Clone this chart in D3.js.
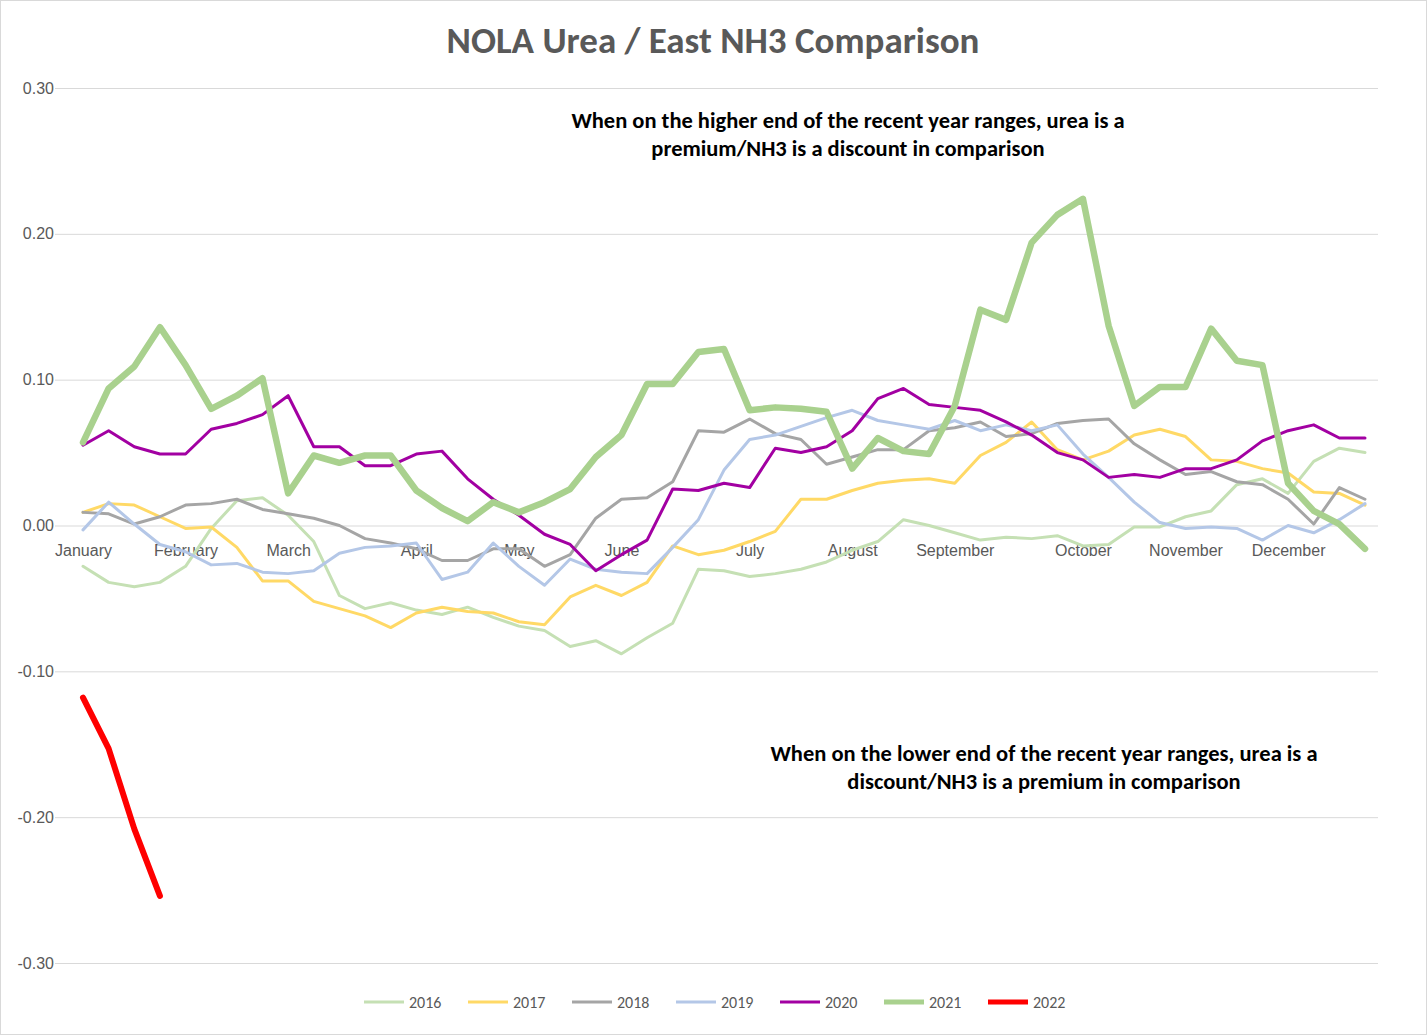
<!DOCTYPE html>
<html>
<head>
<meta charset="utf-8">
<script src="https://cdn.jsdelivr.net/npm/d3@7"></script>
<style>
body { margin: 0; background: #fff; }
svg { font-family: Calibri, Carlito, "Liberation Sans", Arial, sans-serif; }
</style>
</head>
<body>
<svg id="chart" width="1427" height="1035"></svg>
<script>
const months = ["January","February","March","April","May","June","July","August","September","October","November","December"];
const monthIdx = [0,4,8,13,17,21,26,30,34,39,43,47];
const yTicks = [0.30, 0.20, 0.10, 0.00, -0.10, -0.20, -0.30];

const s2016 = [-0.028,-0.039,-0.042,-0.039,-0.028,-0.002,0.017,0.019,0.007,-0.011,-0.048,-0.057,-0.053,-0.058,-0.061,-0.056,-0.063,-0.069,-0.072,-0.083,-0.079,-0.088,-0.077,-0.067,-0.030,-0.031,-0.035,-0.033,-0.030,-0.025,-0.017,-0.011,0.004,0.000,-0.005,-0.010,-0.008,-0.009,-0.007,-0.014,-0.013,-0.001,-0.001,0.006,0.010,0.028,0.032,0.022,0.044,0.053,0.050];
const s2017 = [0.009,0.015,0.014,0.006,-0.002,-0.001,-0.015,-0.038,-0.038,-0.052,-0.057,-0.062,-0.070,-0.060,-0.056,-0.059,-0.060,-0.066,-0.068,-0.049,-0.041,-0.048,-0.039,-0.014,-0.020,-0.017,-0.011,-0.004,0.018,0.018,0.024,0.029,0.031,0.032,0.029,0.048,0.057,0.071,0.052,0.045,0.051,0.062,0.066,0.061,0.045,0.044,0.039,0.036,0.023,0.022,0.014];
const s2018 = [0.009,0.008,0.001,0.006,0.014,0.015,0.018,0.011,0.008,0.005,0.000,-0.009,-0.012,-0.016,-0.024,-0.024,-0.016,-0.016,-0.028,-0.020,0.005,0.018,0.019,0.030,0.065,0.064,0.073,0.063,0.059,0.042,0.047,0.052,0.052,0.065,0.067,0.071,0.061,0.063,0.070,0.072,0.073,0.056,0.045,0.035,0.037,0.030,0.028,0.018,0.001,0.026,0.018];
const s2019 = [-0.003,0.016,0.001,-0.013,-0.018,-0.027,-0.026,-0.032,-0.033,-0.031,-0.019,-0.015,-0.014,-0.012,-0.037,-0.032,-0.012,-0.028,-0.041,-0.023,-0.030,-0.032,-0.033,-0.015,0.004,0.038,0.059,0.062,0.068,0.074,0.079,0.072,0.069,0.066,0.072,0.065,0.069,0.065,0.069,0.049,0.033,0.016,0.002,-0.002,-0.001,-0.002,-0.010,0.000,-0.005,0.004,0.015];
const s2020 = [0.055,0.065,0.054,0.049,0.049,0.066,0.070,0.076,0.089,0.054,0.054,0.041,0.041,0.049,0.051,0.032,0.018,0.007,-0.006,-0.013,-0.031,-0.020,-0.010,0.025,0.024,0.029,0.026,0.053,0.050,0.054,0.065,0.087,0.094,0.083,0.081,0.079,0.071,0.062,0.050,0.045,0.033,0.035,0.033,0.039,0.039,0.045,0.058,0.065,0.069,0.060,0.060];
const s2021 = [0.057,0.094,0.109,0.136,0.110,0.080,0.089,0.101,0.022,0.048,0.043,0.048,0.048,0.024,0.012,0.003,0.016,0.009,0.016,0.025,0.047,0.062,0.097,0.097,0.119,0.121,0.079,0.081,0.080,0.078,0.039,0.060,0.051,0.049,0.082,0.148,0.141,0.194,0.213,0.224,0.137,0.082,0.095,0.095,0.135,0.113,0.110,0.029,0.010,0.001,-0.016];
const s2022 = [-0.118,-0.153,-0.208,-0.254];

const series = [
  {name:"2016", values:s2016, color:"#c5e0b4", w:3},
  {name:"2017", values:s2017, color:"#ffd966", w:3},
  {name:"2018", values:s2018, color:"#a5a5a5", w:3},
  {name:"2019", values:s2019, color:"#b4c7e7", w:3},
  {name:"2020", values:s2020, color:"#a200a2", w:3},
  {name:"2021", values:s2021, color:"#a9d18e", w:6.5},
  {name:"2022", values:s2022, color:"#ff0000", w:6}
];

const svg = d3.select("#chart");
svg.append("rect").attr("x",0.5).attr("y",0.5).attr("width",1426).attr("height",1034)
  .attr("fill","#fff").attr("stroke","#d9d9d9");

const x = d3.scaleLinear().domain([0, 50]).range([83, 1365]);
const y = d3.scaleLinear().domain([-0.30, 0.30]).range([963, 88]);

// gridlines + y labels (plain hyphen for negatives)
const fmt = d => (d < 0 ? "-" : "") + Math.abs(d).toFixed(2);
const yAxis = d3.axisLeft(y).tickValues(yTicks).tickSize(-(1378 - 55)).tickFormat(fmt);
const gy = svg.append("g").attr("transform", "translate(55,0)").call(yAxis);
gy.select(".domain").remove();
gy.selectAll(".tick line").attr("stroke", "#d9d9d9");
gy.selectAll(".tick text").attr("x", -1).attr("fill", "#595959").style("font-size", "16px");

// month labels along the zero line
const xAxis = d3.axisBottom(x).tickValues(monthIdx).tickSize(0).tickFormat((d, i) => months[i]);
const gx = svg.append("g").attr("transform", `translate(0,${y(0)})`).call(xAxis);
gx.select(".domain").remove();
gx.selectAll(".tick text").attr("dy", "1.7em").attr("fill", "#595959").style("font-size", "16px");

const line = d3.line().x((d, i) => x(i)).y(d => y(d));
series.forEach(s => {
  svg.append("path").datum(s.values).attr("d", line)
    .attr("fill", "none").attr("stroke", s.color).attr("stroke-width", s.w)
    .attr("stroke-linejoin", "round").attr("stroke-linecap", "round");
});

svg.append("text").attr("x", 713).attr("y", 53).attr("text-anchor", "middle")
  .attr("fill", "#595959").style("font-size", "37px").style("font-weight", "bold")
  .text("NOLA Urea / East NH3 Comparison");

const note = (lines, cx, y0) => lines.forEach((t, i) =>
  svg.append("text").attr("x", cx).attr("y", y0 + i * 28).attr("text-anchor", "middle")
    .style("font-size", "22.5px").style("font-weight", "bold").attr("fill", "#000").text(t));
note(["When on the higher end of the recent year ranges, urea is a", "premium/NH3 is a discount in comparison"], 848, 128);
note(["When on the lower end of the recent year ranges, urea is a", "discount/NH3 is a premium in comparison"], 1044, 761);

// legend
const lg = svg.append("g");
const itemW = 104, startX = 364;
series.forEach((s, i) => {
  const gx0 = startX + i * itemW;
  lg.append("line").attr("x1", gx0).attr("x2", gx0 + 40).attr("y1", 1002).attr("y2", 1002)
    .attr("stroke", s.color).attr("stroke-width", s.w > 4 ? 5 : 3);
  lg.append("text").attr("x", gx0 + 45).attr("y", 1008).attr("fill", "#595959")
    .style("font-size", "16px").text(s.name);
});
</script>
</body>
</html>
